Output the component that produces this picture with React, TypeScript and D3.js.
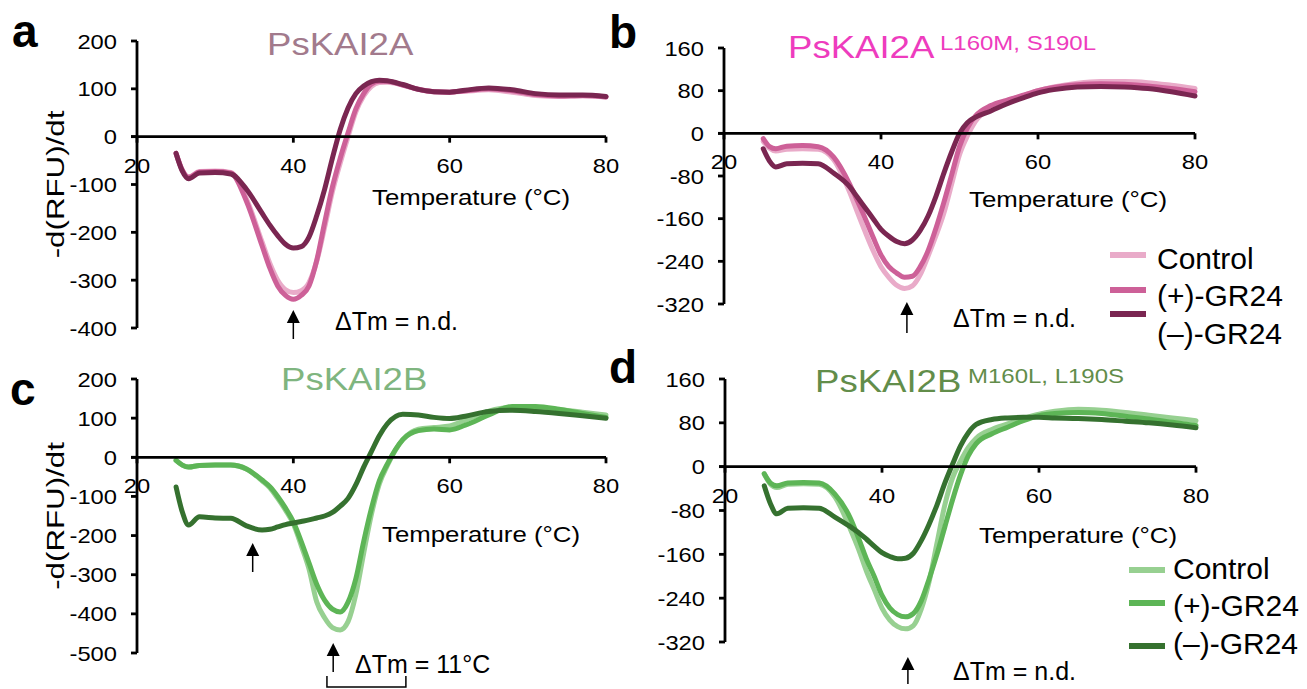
import React from 'react';
import * as d3 from 'd3';

// temperature points (°C) shared by every melt curve
const temps = [25, 25.8, 26.6, 28, 30, 32, 34, 36, 37, 38, 39, 40, 41, 42, 43, 44, 45, 46, 47, 48, 49, 50, 51, 52, 54, 56, 58, 60, 62, 65, 68, 71, 74, 77, 80];

// a: PsKAI2A
const aControl = [-35, -70, -84, -73, -72, -75, -130, -220, -265, -300, -320, -326, -322, -305, -260, -190, -115, -55, 0, 52, 85, 105, 113, 114, 108, 99, 94, 93, 95, 98, 93, 86, 84, 85, 83];
const aPlus = [-35, -70, -85, -74, -73, -76, -135, -228, -275, -312, -332, -340, -332, -312, -258, -180, -105, -45, 8, 58, 90, 110, 116, 116, 108, 99, 94, 93, 96, 100, 96, 88, 85, 86, 83];
const aMinus = [-35, -72, -88, -76, -75, -78, -110, -160, -185, -207, -225, -233, -230, -210, -165, -110, -45, 15, 60, 90, 106, 115, 118, 117, 109, 99, 94, 93, 97, 102, 98, 90, 87, 87, 84];

// b: PsKAI2A L160M, S190L
const bControl = [-15, -28, -33, -30, -29, -30, -50, -110, -148, -185, -220, -250, -270, -285, -291, -286, -265, -230, -192, -150, -95, -40, -5, 22, 48, 60, 70, 80, 87, 94, 97, 97, 95, 90, 84];
const bPlus = [-10, -25, -29, -24, -23, -25, -45, -95, -127, -160, -195, -228, -250, -262, -270, -268, -250, -220, -178, -130, -78, -25, 10, 32, 52, 62, 71, 80, 86, 91, 93, 92, 89, 84, 78];
const bMinus = [-29, -52, -63, -57, -56, -57, -75, -100, -120, -140, -160, -180, -193, -203, -207, -200, -182, -155, -118, -75, -35, 0, 20, 30, 42, 55, 66, 76, 82, 87, 88, 87, 84, 78, 70];

// c: PsKAI2B
const cControl = [-8, -20, -25, -21, -20, -20, -30, -60, -78, -105, -135, -170, -225, -285, -370, -410, -435, -441, -420, -350, -245, -145, -68, -22, 45, 72, 76, 80, 95, 118, 128, 127, 122, 115, 108];
const cPlus = [-8, -20, -25, -21, -20, -20, -30, -58, -75, -100, -130, -165, -215, -270, -325, -365, -388, -395, -370, -310, -215, -130, -60, -18, 45, 68, 72, 70, 82, 108, 130, 130, 123, 112, 102];
const cMinus = [-76, -140, -173, -152, -155, -156, -175, -186, -184, -178, -172, -168, -164, -160, -155, -150, -141, -125, -105, -70, -25, 15, 55, 85, 110, 108, 102, 99, 105, 117, 120, 117, 112, 106, 100];

// d: PsKAI2B M160L, L190S
const dControl = [-13, -32, -38, -32, -31, -32, -55, -115, -150, -190, -224, -258, -280, -292, -296, -290, -260, -210, -140, -70, -20, 10, 35, 52, 68, 78, 88, 96, 101, 105, 103, 99, 94, 89, 84];
const dPlus = [-13, -30, -35, -30, -29, -30, -50, -95, -130, -168, -200, -235, -258, -270, -274, -268, -245, -205, -160, -110, -60, -15, 20, 42, 60, 72, 84, 93, 97, 99, 97, 92, 87, 81, 75];
const dMinus = [-35, -68, -86, -76, -75, -76, -92, -110, -120, -132, -145, -157, -164, -168, -167, -158, -135, -105, -70, -30, 5, 38, 62, 77, 86, 89, 90, 90, 89, 88, 86, 83, 80, 76, 71];

const xTicks = [20, 40, 60, 80];
const yTicksA = [-400, -300, -200, -100, 0, 100, 200];
const yTicksB = [-320, -240, -160, -80, 0, 80, 160];
const yTicksC = [-500, -400, -300, -200, -100, 0, 100, 200];
const legendLabels = ['Control', '(+)-GR24', '(\u2013)-GR24'];

const pinks = ['#e9abc9', '#cd6098', '#7a2651'];
const greens = ['#97d091', '#5db556', '#35712f'];
const FONT = '"Liberation Sans", Arial, Helvetica, sans-serif';

const panels = [
  {
    letter: 'a', letterX: 12, letterY: 47,
    xr: [137, 606], yd: [-400, 200], yr: [328, 41], yTicks: yTicksA,
    series: [aControl, aPlus, aMinus], colors: pinks, yLabel: true,
    title: 'PsKAI2A', titleColor: '#a27a8c', titleX: 267, titleY: 55, sup: null as any,
    tempX: 372, tempY: 205,
    arrows: [{ t: 40, top: 310, bottom: 339 }],
    note: '\u0394Tm = n.d.', noteX: 335, noteY: 330,
  },
  {
    letter: 'b', letterX: 609, letterY: 48,
    xr: [724, 1195], yd: [-320, 160], yr: [304, 48], yTicks: yTicksB,
    series: [bControl, bPlus, bMinus], colors: pinks, yLabel: false,
    title: 'PsKAI2A', titleColor: '#ee3cbe', titleX: 788, titleY: 58,
    sup: { text: 'L160M, S190L', x: 940, y: 50 },
    tempX: 969, tempY: 207,
    arrows: [{ t: 43.3, top: 302, bottom: 333 }],
    note: '\u0394Tm = n.d.', noteX: 953, noteY: 327,
  },
  {
    letter: 'c', letterX: 10, letterY: 405,
    xr: [137, 606], yd: [-500, 200], yr: [653, 379], yTicks: yTicksC,
    series: [cControl, cPlus, cMinus], colors: greens, yLabel: true,
    title: 'PsKAI2B', titleColor: '#7fb57f', titleX: 281, titleY: 390, sup: null as any,
    tempX: 382, tempY: 542,
    arrows: [{ t: 34.8, top: 543, bottom: 572 }, { t: 45.1, top: 643, bottom: 672 }],
    note: '\u0394Tm = 11\u00b0C', noteX: 355, noteY: 673,
    bracket: { t0: 44.3, t1: 54.4, top: 676, bottom: 687 },
  },
  {
    letter: 'd', letterX: 609, letterY: 383,
    xr: [725, 1196], yd: [-320, 160], yr: [642, 379], yTicks: yTicksB,
    series: [dControl, dPlus, dMinus], colors: greens, yLabel: false,
    title: 'PsKAI2B', titleColor: '#628d4a', titleX: 815, titleY: 392,
    sup: { text: 'M160L, L190S', x: 968, y: 383 },
    tempX: 979, tempY: 543,
    arrows: [{ t: 43.3, top: 657, bottom: 684 }],
    note: '\u0394Tm = n.d.', noteX: 953, noteY: 680,
  },
];

const legends = [
  { colors: pinks, lineX: 1110, textX: 1157, lineYs: [255, 290, 314], textYs: [258, 295, 333] },
  { colors: greens, lineX: 1129, textX: 1173, lineYs: [570, 603, 646], textYs: [568, 605, 643] },
];

// horizontally stretched text, like the figure's axis labels
function WideText({ x, y, sx, size, anchor = 'start', fill = '#000', children }: any) {
  return (
    <g transform={`translate(${x},${y}) scale(${sx},1)`}>
      <text fontSize={size} textAnchor={anchor} fill={fill}>{children}</text>
    </g>
  );
}

function Panel({ p }: { p: any }) {
  const x = d3.scaleLinear().domain([20, 80]).range(p.xr);
  const y = d3.scaleLinear().domain(p.yd).range(p.yr);
  const line = d3.line<number>()
    .x((_, i) => x(temps[i]))
    .y(d => y(d))
    .curve(d3.curveMonotoneX);
  const y0 = y(0);
  const yTop = y(p.yd[1]);
  const yBot = y(p.yd[0]);
  const sx = 1.13;

  return (
    <g>
      {p.series.map((s: number[], i: number) => (
        <path key={i} d={line(s) as string} fill="none" stroke={p.colors[i]}
          strokeWidth={5} strokeLinejoin="round" strokeLinecap="round" />
      ))}

      <line x1={x(20)} x2={x(20)} y1={yTop} y2={yBot} stroke="#000" strokeWidth={2.8} />
      <line x1={x(20) - 6} x2={x(80)} y1={y0} y2={y0} stroke="#000" strokeWidth={2.8} />
      {p.yTicks.map((t: number) => (
        <g key={'y' + t}>
          <line x1={x(20) - 6} x2={x(20)} y1={y(t)} y2={y(t)} stroke="#000" strokeWidth={2.8} />
          <WideText x={x(20) - 20} y={y(t) + 7.5} sx={sx} size={21} anchor="end">{t}</WideText>
        </g>
      ))}
      {xTicks.map(t => (
        <g key={'x' + t}>
          <line x1={x(t)} x2={x(t)} y1={y0} y2={y0 + 6} stroke="#000" strokeWidth={2.8} />
          <WideText x={x(t)} y={y0 + 36} sx={sx} size={21} anchor="middle">{t}</WideText>
        </g>
      ))}

      <WideText x={p.tempX} y={p.tempY} sx={1.2} size={21.5}>Temperature (°C)</WideText>

      {p.yLabel && (
        <g transform={`translate(64,${(yTop + yBot) / 2}) rotate(-90) scale(1.36,1)`}>
          <text fontSize={23} textAnchor="middle">-d(RFU)/dt</text>
        </g>
      )}

      <text x={p.letterX} y={p.letterY} fontSize={46} fontWeight="bold">{p.letter}</text>
      <WideText x={p.titleX} y={p.titleY} sx={1.18} size={31} fill={p.titleColor}>{p.title}</WideText>
      {p.sup && (
        <WideText x={p.sup.x} y={p.sup.y} sx={1.2} size={20} fill={p.titleColor}>{p.sup.text}</WideText>
      )}

      {p.arrows.map((a: any, i: number) => {
        const ax = x(a.t);
        return (
          <g key={'ar' + i}>
            <line x1={ax} x2={ax} y1={a.top + 10} y2={a.bottom} stroke="#000" strokeWidth={1.5} />
            <path d={`M${ax},${a.top} L${ax - 6.5},${a.top + 13} L${ax + 6.5},${a.top + 13} Z`} fill="#000" />
          </g>
        );
      })}
      <text x={p.noteX} y={p.noteY} fontSize={25}>{p.note}</text>
      {p.bracket && (
        <path d={`M${x(p.bracket.t0)},${p.bracket.top} V${p.bracket.bottom} H${x(p.bracket.t1)} V${p.bracket.top}`}
          fill="none" stroke="#000" strokeWidth={1.5} />
      )}
    </g>
  );
}

export default function App() {
  return (
    <svg width={1307} height={689} style={{ position: 'absolute', left: 0, top: 0, background: '#fff' }}
      fontFamily={FONT}>
      {panels.map(p => <Panel key={p.letter} p={p} />)}
      {legends.map((lg, li) => (
        <g key={'lg' + li}>
          {legendLabels.map((lab, i) => (
            <g key={lab}>
              <line x1={lg.lineX} x2={lg.lineX + 36} y1={lg.lineYs[i]} y2={lg.lineYs[i]} stroke={lg.colors[i]} strokeWidth={6} />
              <text x={lg.textX} y={lg.textYs[i] + 10.5} fontSize={30}>{lab}</text>
            </g>
          ))}
        </g>
      ))}
    </svg>
  );
}
